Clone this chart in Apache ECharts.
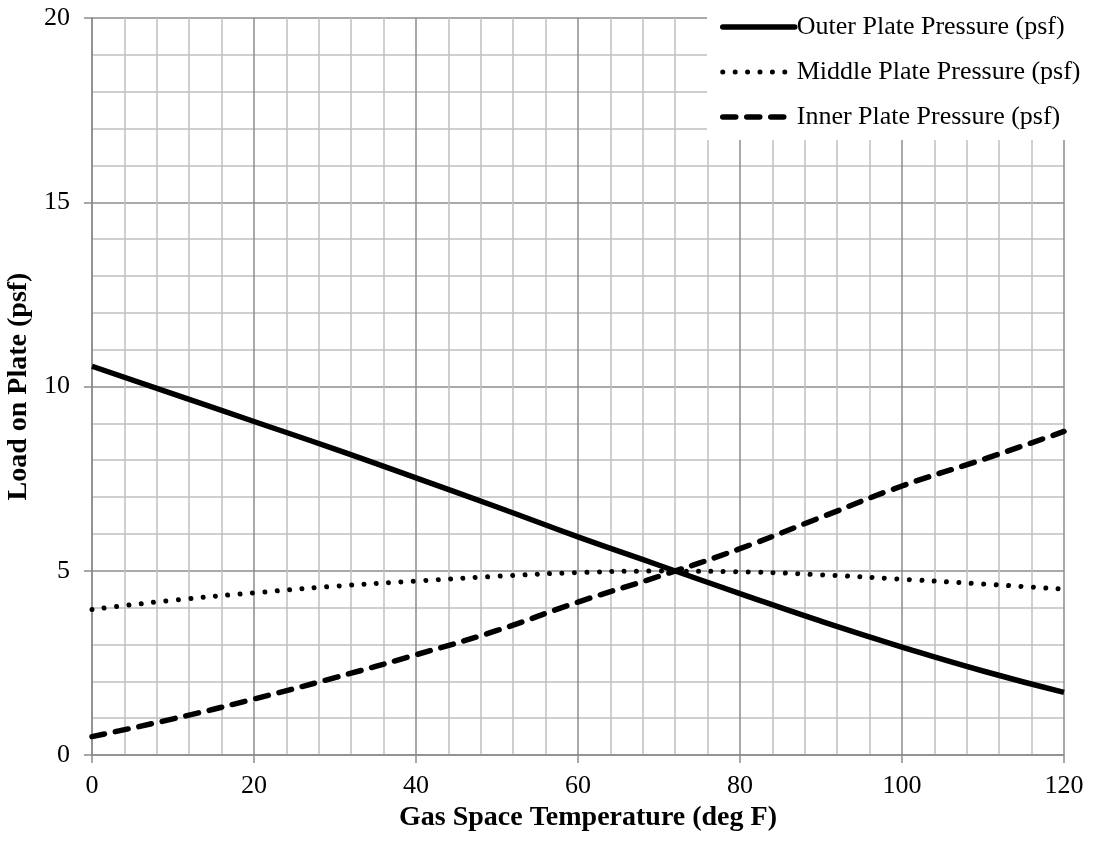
<!DOCTYPE html>
<html>
<head>
<meta charset="utf-8">
<script src="https://cdn.jsdelivr.net/npm/echarts@6/dist/echarts.min.js"></script>
<style>
html,body{margin:0;padding:0;background:#fff;}
#chart{width:1094px;height:842px;}
</style>
</head>
<body>
<div id="chart"></div>
<script>
// Data
var temps = [0, 10, 20, 30, 40, 50, 60, 70, 80, 90, 100, 110, 120];
var outerPressure  = [10.55, 9.8, 9.05, 8.3, 7.52, 6.73, 5.92, 5.15, 4.38, 3.63, 2.93, 2.28, 1.7];
var middlePressure = [3.95, 4.2, 4.4, 4.58, 4.72, 4.85, 4.95, 4.99, 4.97, 4.89, 4.77, 4.64, 4.5];
var innerPressure  = [0.5, 0.98, 1.52, 2.1, 2.72, 3.38, 4.15, 4.85, 5.6, 6.45, 7.3, 8.02, 8.78];
var seriesNames = ['Outer Plate Pressure (psf)', 'Middle Plate Pressure (psf)', 'Inner Plate Pressure (psf)'];
var xTitle = 'Gas Space Temperature (deg F)';
var yTitle = 'Load on Plate (psf)';

function pairs(ys){ return temps.map(function(t,i){ return [t, ys[i]]; }); }

var FONT = "'Liberation Serif', 'Times New Roman', serif";
var MAJOR = '#8c8c8c', MINOR = '#c0c0c0';

var chart = echarts.init(document.getElementById('chart'), null, {renderer:'canvas'});
chart.setOption({
  animation: false,
  backgroundColor: '#fff',
  grid: {left: 92, right: 30, top: 18, bottom: 87, containLabel: false, outerBoundsMode: 'none'},
  legend: {
    orient: 'vertical', left: 707, top: 0,
    backgroundColor: '#fff',
    padding: [12, 24, 8, 13],
    itemGap: 15, itemWidth: 72, itemHeight: 14,
    itemStyle: {color: 'rgba(0,0,0,0)', borderColor: 'rgba(0,0,0,0)', borderWidth: 0, opacity: 0},
    lineStyle: {width: 'inherit', type: 'inherit', cap: 'round'},
    textStyle: {fontFamily: FONT, fontSize: 26, color: '#000', lineHeight: 30, padding: [0, 0, 0, -3]},
    data: seriesNames
  },
  xAxis: {
    type: 'value', min: 0, max: 120, interval: 20,
    name: xTitle, nameLocation: 'middle', nameGap: 38,
    nameTextStyle: {fontFamily: FONT, fontSize: 28, fontWeight: 'bold', color: '#000', padding: [0, 0, 0, 20]},
    axisLine: {show: true, lineStyle: {color: MAJOR, width: 1.5}},
    axisTick: {show: true, length: 8, lineStyle: {color: MAJOR, width: 1.5}},
    axisLabel: {fontFamily: FONT, fontSize: 26, color: '#000', margin: 18},
    splitLine: {show: true, lineStyle: {color: MAJOR, width: 1.5}},
    minorTick: {show: false, splitNumber: 5},
    minorSplitLine: {show: true, lineStyle: {color: MINOR, width: 1.5}}
  },
  yAxis: {
    type: 'value', min: 0, max: 20, interval: 5,
    name: yTitle, nameLocation: 'middle', nameGap: 56,
    nameTextStyle: {fontFamily: FONT, fontSize: 28, fontWeight: 'bold', color: '#000'},
    axisLine: {show: true, lineStyle: {color: MAJOR, width: 1.5}},
    axisTick: {show: true, length: 8, lineStyle: {color: MAJOR, width: 1.5}},
    axisLabel: {fontFamily: FONT, fontSize: 26, color: '#000', margin: 22},
    splitLine: {show: true, lineStyle: {color: MAJOR, width: 1.5}},
    minorTick: {show: false, splitNumber: 5},
    minorSplitLine: {show: true, lineStyle: {color: MINOR, width: 1.5}}
  },
  series: [
    {name: seriesNames[0], type: 'line', data: pairs(outerPressure), smooth: true, showSymbol: false, symbol: 'none',
     lineStyle: {color: '#000', width: 5.5, type: 'solid', cap: 'butt'}, itemStyle: {color: '#000'}},
    {name: seriesNames[1], type: 'line', data: pairs(middlePressure), smooth: true, showSymbol: false, symbol: 'none',
     lineStyle: {color: '#000', width: 5, type: [0.01, 12.4], cap: 'round'}, itemStyle: {color: '#000'}},
    {name: seriesNames[2], type: 'line', data: pairs(innerPressure), smooth: true, showSymbol: false, symbol: 'none',
     lineStyle: {color: '#000', width: 5.5, type: [13, 11], cap: 'round'}, itemStyle: {color: '#000'}}
  ]
});
</script>
</body>
</html>
